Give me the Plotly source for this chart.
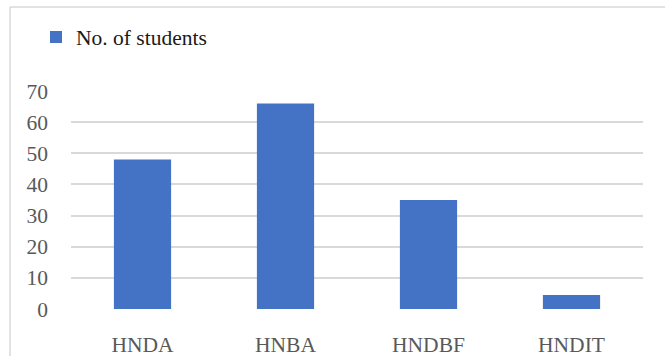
import plotly.graph_objects as go

categories = ["HNDA", "HNBA", "HNDBF", "HNDIT"]
students = [48, 66, 35, 4.5]
series_name = "No. of students"
y_ticks = [0, 10, 20, 30, 40, 50, 60, 70]

W, H = 665, 356
L, R, T, B = 71, 22, 91, 47
pw, ph = W - L - R, H - T - B

def px_x(x):
    return (x - L) / pw

def px_y(y):
    return (H - B - y) / ph

fig = go.Figure()
fig.add_trace(go.Bar(
    x=categories, y=students, name=series_name,
    marker=dict(color="#4472C4", line=dict(width=0)),
    width=0.4, showlegend=True,
))

font = "Liberation Serif, Times New Roman, serif"
fs = 21.5
fig.update_layout(
    width=W, height=H,
    margin=dict(l=L, r=R, t=T, b=B, pad=0, autoexpand=False),
    paper_bgcolor="white", plot_bgcolor="white",
    font=dict(family=font, size=fs, color="#595959"),
    showlegend=True,
    legend=dict(
        x=px_x(36), y=px_y(37), xanchor="left", yanchor="middle",
        font=dict(family=font, size=fs, color="#1a1a1a"),
        bgcolor="rgba(0,0,0,0)", borderwidth=0,
        itemwidth=30,
    ),
    xaxis=dict(
        showgrid=False, zeroline=False, showline=False, ticks="",
        tickfont=dict(family=font, size=fs, color="#595959"),
        ticklabelstandoff=20, automargin=False,
    ),
    yaxis=dict(
        range=[0, 70], tickvals=y_ticks, showgrid=True,
        gridcolor="#d9d9d9", gridwidth=1.5, zeroline=False, showline=False,
        ticks="", tickfont=dict(family=font, size=fs, color="#595959"),
        ticklabelstandoff=22, automargin=False,
    ),
    bargap=0.6,
    shapes=[
        dict(type="line", xref="paper", yref="paper",
             x0=px_x(10), x1=px_x(670), y0=px_y(7), y1=px_y(7),
             line=dict(color="#d9d9d9", width=1.5)),
        dict(type="line", xref="paper", yref="paper",
             x0=px_x(10), x1=px_x(10), y0=px_y(7), y1=px_y(360),
             line=dict(color="#d9d9d9", width=1.5)),
    ],
)

fig.write_html("out.html")
